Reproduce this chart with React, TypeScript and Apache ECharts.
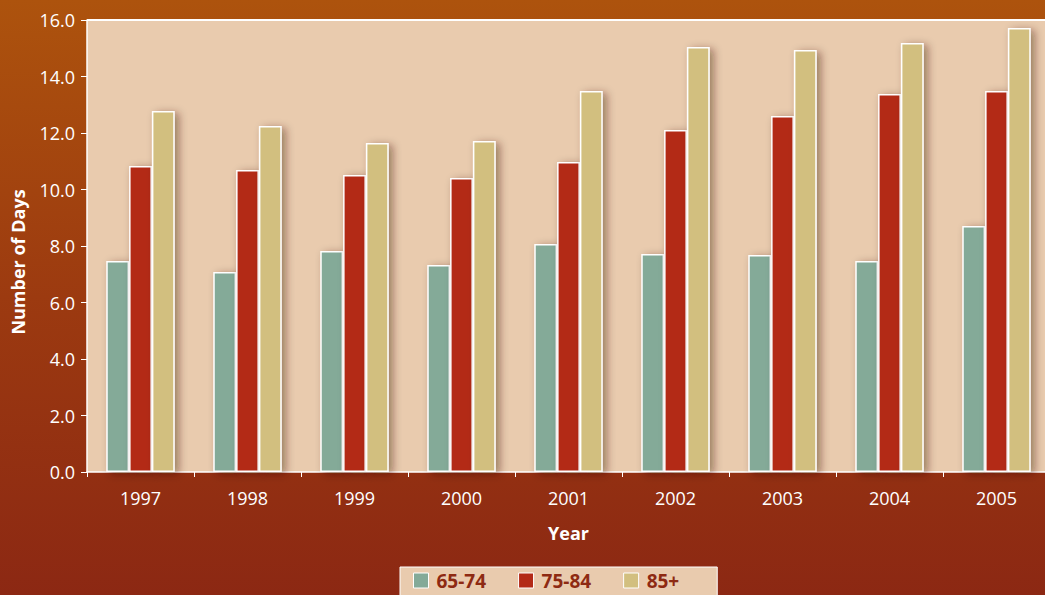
import React, { useEffect, useRef } from "react";
import * as echarts from "echarts";

const years = ["1997", "1998", "1999", "2000", "2001", "2002", "2003", "2004", "2005"];
const age6574 = [7.47, 7.08, 7.82, 7.33, 8.07, 7.72, 7.68, 7.47, 8.71];
const age7584 = [10.83, 10.69, 10.51, 10.41, 10.97, 12.11, 12.6, 13.38, 13.49];
const age85plus = [12.78, 12.25, 11.65, 11.72, 13.49, 15.04, 14.94, 15.19, 15.72];
const seriesNames = ["65-74", "75-84", "85+"];
const colors = ["#84AA98", "#B32A17", "#D2BF7F"];

export default function App() {
  const ref = useRef<HTMLDivElement>(null);
  useEffect(() => {
    if (!ref.current) return;
    const chart = echarts.init(ref.current, null, { renderer: "svg" });
    const data = [age6574, age7584, age85plus];
    chart.setOption({
      animation: false,
      backgroundColor: {
        type: "linear",
        x: 0, y: 0, x2: 0, y2: 1,
        colorStops: [
          { offset: 0, color: "#AD530D" },
          { offset: 0.5, color: "#9C3A10" },
          { offset: 1, color: "#8C2813" },
        ],
      },
      textStyle: { fontFamily: "Open Sans" },
      grid: {
        left: 87,
        top: 20,
        right: -5,
        bottom: 123,
        show: true,
        backgroundColor: "#E9CBAE",
        borderColor: "#FFFFFF",
        borderWidth: 0,
        containLabel: false,
        outerBoundsMode: "none",
      },
      legend: {
        top: 567,
        left: 400,
        padding: [4, 38, 12, 13],
        itemGap: 32,
        itemWidth: 15,
        itemHeight: 15,
        icon: "rect",
        backgroundColor: "#E9CBAE",
        borderColor: "#FFFFFF",
        borderWidth: 1,
        textStyle: {
          color: "#8E2A12",
          fontWeight: "bold",
          fontSize: 19,
          fontFamily: "Open Sans",
          padding: [0, 0, 0, 3],
        },
        itemStyle: { borderColor: "#FFFFFF", borderWidth: 1 },
        data: seriesNames,
      },
      xAxis: {
        type: "category",
        data: years,
        name: "Year",
        nameLocation: "middle",
        nameGap: 52,
        nameTextStyle: { color: "#FFFFFF", fontWeight: "bold", fontSize: 18 },
        axisLine: { lineStyle: { color: "#FFFFFF", width: 1.5 } },
        axisTick: { show: true, length: 5, lineStyle: { color: "#FFFFFF" } },
        axisLabel: { color: "#FFFFFF", fontSize: 18, margin: 17 },
      },
      yAxis: {
        type: "value",
        min: 0,
        max: 16,
        interval: 2,
        axisLine: { show: true, lineStyle: { color: "#FFFFFF", width: 1.5 } },
        axisTick: { show: true, length: 6, lineStyle: { color: "#FFFFFF" } },
        axisLabel: { color: "#FFFFFF", fontSize: 18, margin: 12, formatter: (v: number) => v.toFixed(1) },
        splitLine: { show: false },
      },
      series: seriesNames.map((n, i) => ({
        name: n,
        type: "bar",
        data: data[i],
        barGap: "0%",
        barCategoryGap: "36%",
        itemStyle: {
          color: colors[i],
          borderColor: "#FFFFFF",
          borderWidth: 1.5,
          shadowBlur: 8,
          shadowOffsetX: 4,
          shadowOffsetY: 2,
          shadowColor: "rgba(60,30,10,0.45)",
        },
      })),
      graphic: [
        {
          type: "line",
          shape: { x1: 87, y1: 20, x2: 1045, y2: 20 },
          style: { stroke: "#FFFFFF", lineWidth: 2 },
          z: 10,
        },
        {
          type: "text",
          x: 18,
          y: 262,
          rotation: Math.PI / 2,
          style: {
            text: "Number of Days",
            fill: "#FFFFFF",
            font: "bold 18px 'Open Sans'",
            align: "center",
            verticalAlign: "middle",
          },
        },
      ],
    });
    return () => chart.dispose();
  }, []);
  return <div ref={ref} style={{ width: 1045, height: 595, position: "fixed", left: 0, top: 0 }} />;
}
